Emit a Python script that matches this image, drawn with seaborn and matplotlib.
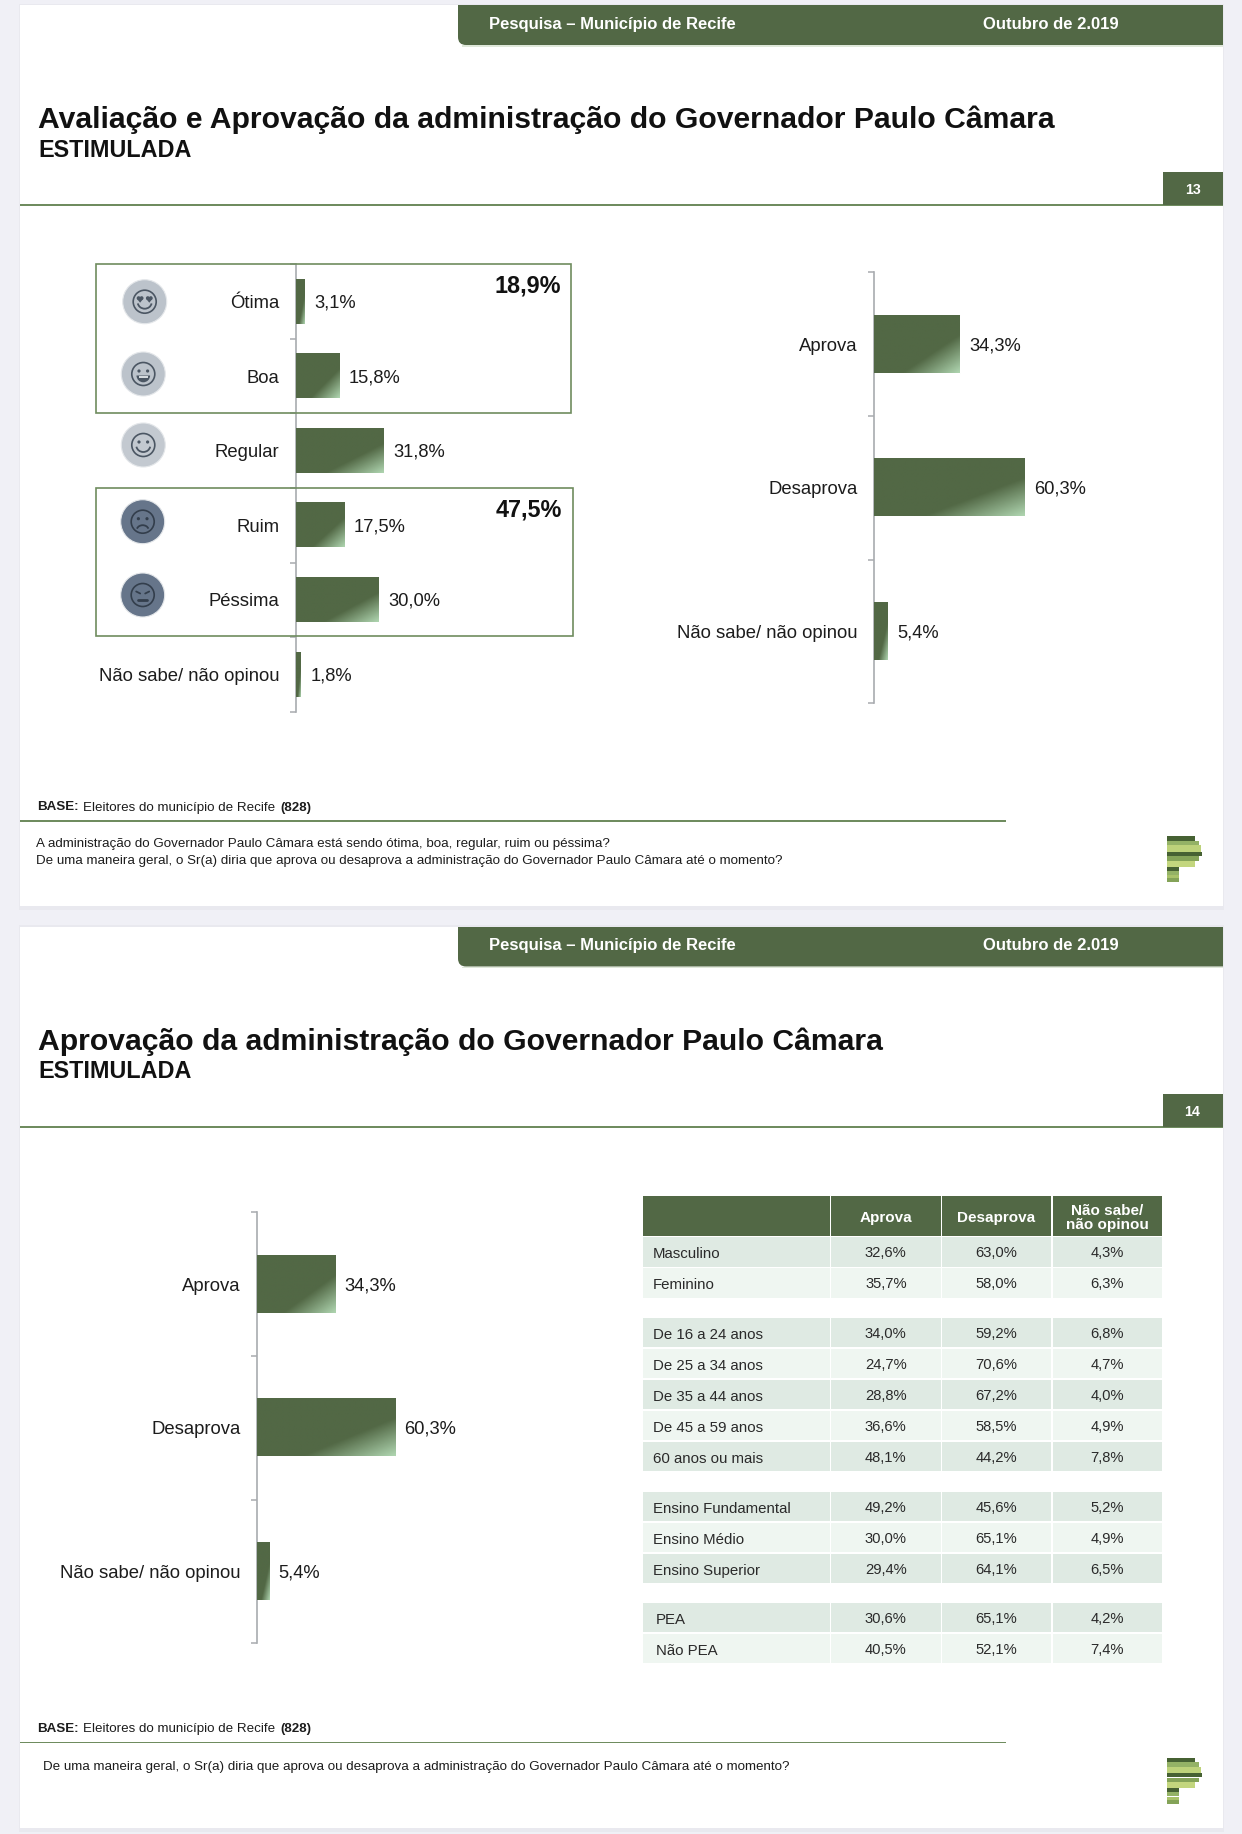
import numpy as np
import pandas as pd
import matplotlib
matplotlib.use("Agg")
import matplotlib.pyplot as plt
from matplotlib.colors import LinearSegmentedColormap
from matplotlib.patches import Rectangle, Circle, Arc, Wedge, Polygon, FancyBboxPatch
import seaborn as sns

# chart data
aval_cats = ["Ótima", "Boa", "Regular", "Ruim", "Péssima", "Não sabe/ não opinou"]
aval_vals = [3.1, 15.8, 31.8, 17.5, 30.0, 1.8]
box_totals = ["18,9%", "47,5%"]

aprov_cats = ["Aprova", "Desaprova", "Não sabe/ não opinou"]
aprov_vals = [34.3, 60.3, 5.4]

# table data
table_cols = ["Aprova", "Desaprova", "Não sabe/\nnão opinou"]
table_rows = ["Masculino", "Feminino",
              "De 16 a 24 anos", "De 25 a 34 anos", "De 35 a 44 anos", "De 45 a 59 anos", "60 anos ou mais",
              "Ensino Fundamental", "Ensino Médio", "Ensino Superior",
              "PEA", "Não PEA"]
table_aprova = [32.6, 35.7, 34.0, 24.7, 28.8, 36.6, 48.1, 49.2, 30.0, 29.4, 30.6, 40.5]
table_desaprova = [63.0, 58.0, 59.2, 70.6, 67.2, 58.5, 44.2, 45.6, 65.1, 64.1, 65.1, 52.1]
table_nao_sabe = [4.3, 6.3, 6.8, 4.7, 4.0, 4.9, 7.8, 5.2, 4.9, 6.5, 4.2, 7.4]
table_groups = [2, 5, 3, 2]

# slide texts
band_left = "Pesquisa – Município de Recife"
band_right = "Outubro de 2.019"
title_1 = "Avaliação e Aprovação da administração do Governador Paulo Câmara"
title_2 = "Aprovação da administração do Governador Paulo Câmara"
subtitle = "ESTIMULADA"
question_1 = "A administração do Governador Paulo Câmara está sendo ótima, boa, regular, ruim ou péssima?"
question_2 = "De uma maneira geral, o Sr(a) diria que aprova ou desaprova a administração do Governador Paulo Câmara até o momento?"

W, H = 1242, 1834
GREEN = "#526845"
LINE_GREEN = "#6f8c5f"
AXIS_GREY = "#a8abaf"
TXT = "#1c1c1c"

sns.set_theme(style="white")
plt.rcParams["font.family"] = ["Liberation Sans", "DejaVu Sans"]

fig = plt.figure(figsize=(W / 100, H / 100), dpi=100, facecolor="#f0f0f6")

# overlay in pixel coordinates for the slide furniture
bg = fig.add_axes([0, 0, 1, 1], zorder=0)
bg.set_xlim(0, W)
bg.set_ylim(H, 0)
bg.axis("off")
top = fig.add_axes([0, 0, 1, 1], zorder=5)
top.set_xlim(0, W)
top.set_ylim(H, 0)
top.axis("off")
top.patch.set_alpha(0)

grad = LinearSegmentedColormap.from_list("bar", [(0, GREEN), (0.67, GREEN), (1, "#aed4af")])


def bar_chart(left, y0, y1, px_per_pct, cats, vals, bar_w, pad):
    ax = fig.add_axes([left / W, 1 - y1 / H, 100 * px_per_pct / W, (y1 - y0) / H], zorder=3)
    ax.patch.set_alpha(0)
    sns.barplot(x=vals, y=cats, orient="h", width=bar_w, color=GREEN, saturation=1, ax=ax)
    n = len(cats)
    pitch = (y1 - y0) / n
    ax.set_xlim(0, 100)
    ax.set_xticks([])
    ax.set_yticks(np.arange(n + 1) - 0.5, labels=[])
    ax.set_yticks(np.arange(n), labels=cats, minor=True)
    ax.tick_params(axis="y", which="major", length=4.1, width=1.1, color=AXIS_GREY, left=True)
    ax.tick_params(axis="y", which="minor", length=0, pad=pad, labelsize=13.3, labelcolor=TXT)
    ax.set_xlabel("")
    ax.set_ylabel("")
    sns.despine(ax=ax, top=True, right=True, bottom=True)
    ax.spines["left"].set_color(AXIS_GREY)
    ax.spines["left"].set_linewidth(1.2)
    # diagonal light corner on each bar
    u, v = np.meshgrid(np.linspace(0, 1, 80), np.linspace(0, 1, 40))
    for p, val in zip(ax.patches, vals):
        x0, w = p.get_x(), p.get_width()
        yb, h = p.get_y(), p.get_height()
        ax.imshow((u + v) / 2, cmap=grad, vmin=0, vmax=1, aspect="auto", interpolation="bilinear",
                  extent=(x0, x0 + w, yb + h, yb), zorder=3)
        ax.text(val + 9.5 / px_per_pct, yb + h / 2 + 1.5 / pitch, f"{val:.1f}%".replace(".", ","),
                ha="left", va="center", fontsize=13.2, color=TXT, zorder=4)
    ax.set_xlim(0, 100)
    ax.set_ylim(n - 0.5, -0.5)
    return ax


def slide(dy, title, bottom):
    bg.add_patch(Rectangle((18.5, 3.5 + dy), 1205.5, bottom - dy, fc="#e9e9ef", ec="none"))
    bg.add_patch(Rectangle((20, 5 + dy), 1202.5, bottom - dy - 5, fc="white", ec="none"))
    # header band, rounded only at the bottom left
    bg.add_patch(Rectangle((462, 45 + dy), 760.5, 1.5, fc="#dfe8da", ec="none"))
    band = FancyBboxPatch((458, dy - 20), 800, 65, boxstyle="round,pad=0,rounding_size=8", fc=GREEN, ec="none")
    bg.add_patch(band)
    band.set_clip_path(Rectangle((458, 5 + dy), 764.5, 41, transform=bg.transData))
    bg.text(489, 28.7 + dy, band_left, color="white", fontsize=12, fontweight="bold", va="baseline")
    bg.text(983, 28.7 + dy, band_right, color="white", fontsize=12, fontweight="bold", va="baseline")
    # title block
    bg.text(38, 128 + dy, title, color="#111111", fontsize=21.7, fontweight="bold", va="baseline")
    bg.text(38, 157 + dy, subtitle, color="#111111", fontsize=16.8, fontweight="bold", va="baseline")
    bg.add_patch(Rectangle((20, 204 + dy), 1202.5, 2, fc=LINE_GREEN, ec="none"))
    bg.add_patch(Rectangle((1162.5, 172 + dy), 60, 33, fc=GREEN, ec="none"))
    bg.text(1192.5, 190 + dy, str(13 if dy == 0 else 14), color="white", fontsize=10.3, fontweight="bold",
            ha="center", va="center")
    # base line
    bg.text(37, 810.5 + dy, "BASE:", color=TXT, fontsize=9.6, fontweight="bold", va="baseline")
    bg.text(83, 810.5 + dy, "Eleitores do município de Recife", color=TXT, fontsize=9.6, va="baseline")
    bg.text(280, 810.5 + dy, "(828)", color=TXT, fontsize=9.6, fontweight="bold", va="baseline")
    bg.add_patch(Rectangle((20, 820 + dy), 986, 1.6, fc=LINE_GREEN, ec="none"))
    # logo stripes
    stripes = [(48, 62, 136, "#466133"), (62, 76, 148, "#94b266"), (76, 95, 154, "#bdd27a"),
               (95, 108, 156, "#466133"), (108, 122, 148, "#84a358"), (122, 140, 134, "#c3d67e"),
               (140, 152, 88, "#466133"), (152, 165, 88, "#94b266"), (165, 175, 88, "#a9c26a"),
               (175, 186, 88, "#84a358")]
    for a, b, r, c in stripes:
        bg.add_patch(Rectangle((1167.3, 820 + a / 3 + dy), (r - 52) / 3, (b - a) / 3, fc=c, ec="none"))


def face(x, y, kind, fill, ink):
    top.add_patch(Circle((x, y), 22, fc=fill, ec="#e4e7ea", lw=0.8))
    top.add_patch(Circle((x, y), 11.5, fc="none", ec=ink, lw=1.2))
    if kind == "heart":
        for ex in (-4.6, 4.6):
            top.add_patch(Circle((x + ex - 1.5, y - 3.6), 1.9, fc=ink, ec="none"))
            top.add_patch(Circle((x + ex + 1.5, y - 3.6), 1.9, fc=ink, ec="none"))
            top.add_patch(Polygon([(x + ex - 3.3, y - 3), (x + ex + 3.3, y - 3), (x + ex, y + 1)], fc=ink, ec="none"))
    elif kind == "angry":
        top.plot([x - 6.5, x - 2.5], [y - 3.5, y - 1.5], color=ink, lw=1.3)
        top.plot([x + 6.5, x + 2.5], [y - 3.5, y - 1.5], color=ink, lw=1.3)
    else:
        top.add_patch(Circle((x - 4.3, y - 3), 1.6, fc=ink, ec="none"))
        top.add_patch(Circle((x + 4.3, y - 3), 1.6, fc=ink, ec="none"))
    if kind == "open":
        top.add_patch(Wedge((x, y + 1.5), 6.8, 0, 180, fc=ink, ec="none"))
        top.add_patch(Rectangle((x - 4.8, y + 2), 9.6, 1.8, fc="#d5dade", ec="none"))
    elif kind in ("heart", "smile"):
        top.add_patch(Arc((x, y + 0.5), 14, 13, theta1=10, theta2=170, ec=ink, lw=1.3))
    elif kind == "sad":
        top.add_patch(Arc((x, y + 8.5), 12, 10, theta1=195, theta2=345, ec=ink, lw=1.3))
    elif kind == "angry":
        top.plot([x - 4.5, x + 4.5], [y + 5, y + 5], color=ink, lw=2, solid_capstyle="round")


slide(0, title_1, 906)
slide(921.5, title_2, 1828)

# slide 13, evaluation bars with icons and summary boxes
bar_chart(295.8, 264.2, 711.8, 2.757, aval_cats, aval_vals, 0.59, 12)
face(144.7, 301.7, "heart", "#bcc3cb", "#4b5663")
face(143.3, 374, "open", "#bcc3cb", "#4b5663")
face(143.3, 445, "smile", "#c3c9d0", "#4b5663")
face(142.7, 521.7, "sad", "#66758a", "#333e4c")
face(142.7, 595, "angry", "#66758a", "#333e4c")
top.add_patch(Rectangle((96, 264), 475, 149, fc="none", ec=LINE_GREEN, lw=1.2))
top.add_patch(Rectangle((96, 488), 477, 148, fc="none", ec=LINE_GREEN, lw=1.2))
top.text(560.5, 286, box_totals[0], ha="right", va="center", fontsize=16.8, fontweight="bold", color="#111111")
top.text(561.5, 510, box_totals[1], ha="right", va="center", fontsize=16.8, fontweight="bold", color="#111111")

# slide 13, approval bars
bar_chart(874, 272.2, 703.2, 2.504, aprov_cats, aprov_vals, 0.4, 11.6)

# slide 14, approval bars
bar_chart(256.6, 1212.2, 1643.2, 2.29, aprov_cats, aprov_vals, 0.4, 11.6)

# slide 14, breakdown table
col_x = [(831, 940.7), (942, 1051), (1052.5, 1162)]
head_top, head_h = 1196, 39.7
top.add_patch(Rectangle((642.5, head_top), 187, head_h, fc=GREEN, ec="none"))
for (c0, c1), name in zip(col_x, table_cols):
    top.add_patch(Rectangle((c0, head_top), c1 - c0, head_h, fc=GREEN, ec="none"))
    top.text((c0 + c1) / 2, head_top + head_h / 2 + 2, name, color="white", fontsize=11, fontweight="bold",
             ha="center", va="center", linespacing=1.0)

table = pd.DataFrame({"rotulo": table_rows, "aprova": table_aprova,
                      "desaprova": table_desaprova, "nao_sabe": table_nao_sabe})
group_tops = [1237.3, 1318, 1491.7, 1602.7]
row_h, row_pitch = 29.3, 31
row_i = 0
for g_top, size in zip(group_tops, table_groups):
    for k in range(size):
        row = table.iloc[row_i]
        y = g_top + k * row_pitch
        shade = "#dfeae3" if k % 2 == 0 else "#eff6f1"
        top.add_patch(Rectangle((642.5, y), 187, row_h, fc=shade, ec="none"))
        label_x = 656 if "PEA" in row["rotulo"] else 653
        top.text(label_x, y + row_h / 2 + 2.3, row["rotulo"], fontsize=10.8, color="#2a2a2a", va="center")
        for (c0, c1), key in zip(col_x, ["aprova", "desaprova", "nao_sabe"]):
            top.add_patch(Rectangle((c0, y), c1 - c0, row_h, fc=shade, ec="none"))
            top.text((c0 + c1) / 2, y + row_h / 2 + 1.3, f"{row[key]:.1f}%".replace(".", ","), fontsize=10.6,
                     color="#2a2a2a", ha="center", va="center")
        row_i += 1

# question footers
bg.text(36, 844.5, question_1, fontsize=9.63, color=TXT, va="center")
bg.text(36, 861, question_2, fontsize=9.63, color=TXT, va="center")
bg.text(43, 1767, question_2, fontsize=9.63, color=TXT, va="center")

fig.savefig("out.png", dpi=100, facecolor=fig.get_facecolor())
